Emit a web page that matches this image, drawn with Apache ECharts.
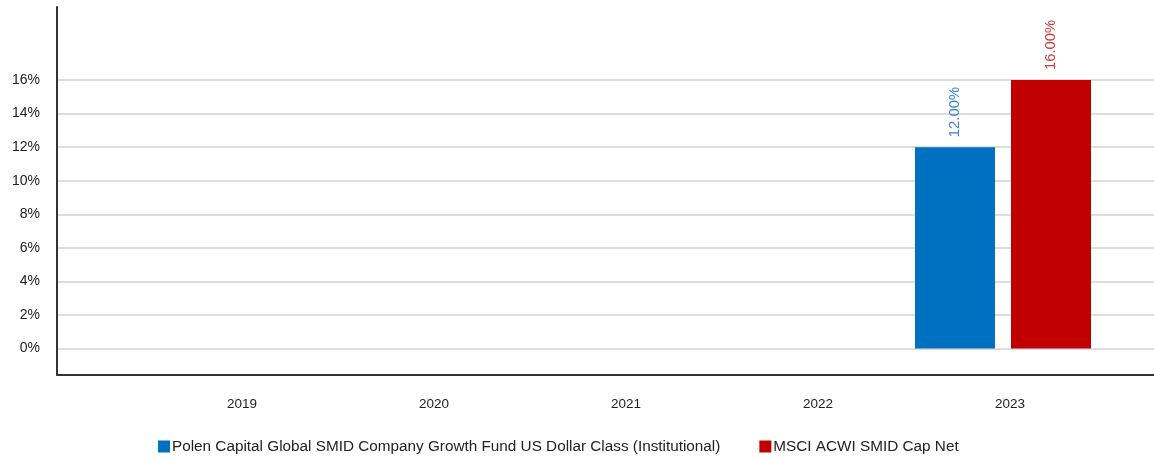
<!DOCTYPE html>
<html>
<head>
<meta charset="utf-8">
<script src="https://cdn.jsdelivr.net/npm/echarts@6/dist/echarts.min.js"></script>
<style>
  html, body { margin: 0; padding: 0; background: #fff; }
  #chart { width: 1154px; height: 458px; }
</style>
</head>
<body>
<div id="chart"></div>
<script>
// Calendar-year returns
const years = ['2019', '2020', '2021', '2022', '2023'];
const fundName = 'Polen Capital Global SMID Company Growth Fund US Dollar Class (Institutional)';
const indexName = 'MSCI ACWI SMID Cap Net';
const fundReturns = [null, null, null, null, 12.00];
const indexReturns = [null, null, null, null, 16.00];

// Percentage axis range and step
const yMin = 0;
const yMax = 16;
const yStep = 2;

const FONT = '"Liberation Sans", Arial, sans-serif';
const fmtPct = v => v.toFixed(2) + '%';

const chart = echarts.init(document.getElementById('chart'), null, { renderer: 'canvas' });

chart.setOption({
  animation: false,
  backgroundColor: '#ffffff',
  textStyle: { fontFamily: FONT },
  legend: {
    left: 153,
    top: 434,
    itemWidth: 12,
    itemHeight: 12,
    itemGap: 39,
    icon: 'rect',
    textStyle: { fontFamily: FONT, fontSize: 15.3, color: '#222', padding: [0, 0, 0, -3] },
    data: [fundName, indexName]
  },
  grid: [
    // outer frame: axis lines only
    { left: 57, right: 0, top: 7, bottom: 83.5 },
    // percentage scale with gridlines
    { left: 57, right: 0, top: 80, bottom: 109.5 },
    // year bands holding the bars
    { left: 139, right: 55, top: 80, bottom: 109.5 }
  ],
  xAxis: [
    {
      gridIndex: 0, type: 'value', min: 0, max: 1,
      axisLine: { show: true, onZero: false, lineStyle: { color: '#333', width: 2 } },
      axisTick: { show: false }, axisLabel: { show: false }, splitLine: { show: false }
    },
    { gridIndex: 1, type: 'value', min: 0, max: 1, show: false },
    {
      gridIndex: 2, type: 'category', data: years,
      axisLine: { show: false }, axisTick: { show: false },
      axisLabel: {
        margin: 49, fontFamily: FONT, fontSize: 13.5, color: '#222',
        padding: [0, 0, 0, 14]
      },
      splitLine: { show: false }
    }
  ],
  yAxis: [
    {
      gridIndex: 0, type: 'value', min: 0, max: 1,
      axisLine: { show: true, onZero: false, lineStyle: { color: '#333', width: 2 } },
      axisTick: { show: false }, axisLabel: { show: false }, splitLine: { show: false }
    },
    {
      gridIndex: 1, type: 'value', min: yMin, max: yMax, interval: yStep,
      axisLine: { show: false }, axisTick: { show: false },
      axisLabel: {
        formatter: '{value}%', margin: 17,
        fontFamily: FONT, fontSize: 14, color: '#222'
      },
      splitLine: { show: true, lineStyle: { color: '#d2d2d2', width: 1.5 } }
    },
    { gridIndex: 2, type: 'value', min: yMin, max: yMax, show: false }
  ],
  series: [
    {
      name: fundName, type: 'bar', xAxisIndex: 2, yAxisIndex: 2,
      data: fundReturns, barWidth: 80, barGap: '20%',
      itemStyle: { color: '#0070c0' },
      label: {
        show: true, position: 'top', distance: 10, rotate: 90,
        align: 'left', verticalAlign: 'middle',
        formatter: p => fmtPct(p.value),
        fontFamily: FONT, fontSize: 14.8, color: '#3d86d0'
      }
    },
    {
      name: indexName, type: 'bar', xAxisIndex: 2, yAxisIndex: 2,
      data: indexReturns, barWidth: 80, barGap: '20%',
      itemStyle: { color: '#c00000' },
      label: {
        show: true, position: 'top', distance: 10, rotate: 90,
        align: 'left', verticalAlign: 'middle',
        formatter: p => fmtPct(p.value),
        fontFamily: FONT, fontSize: 14.8, color: '#d03a3a'
      }
    }
  ]
});
</script>
</body>
</html>
